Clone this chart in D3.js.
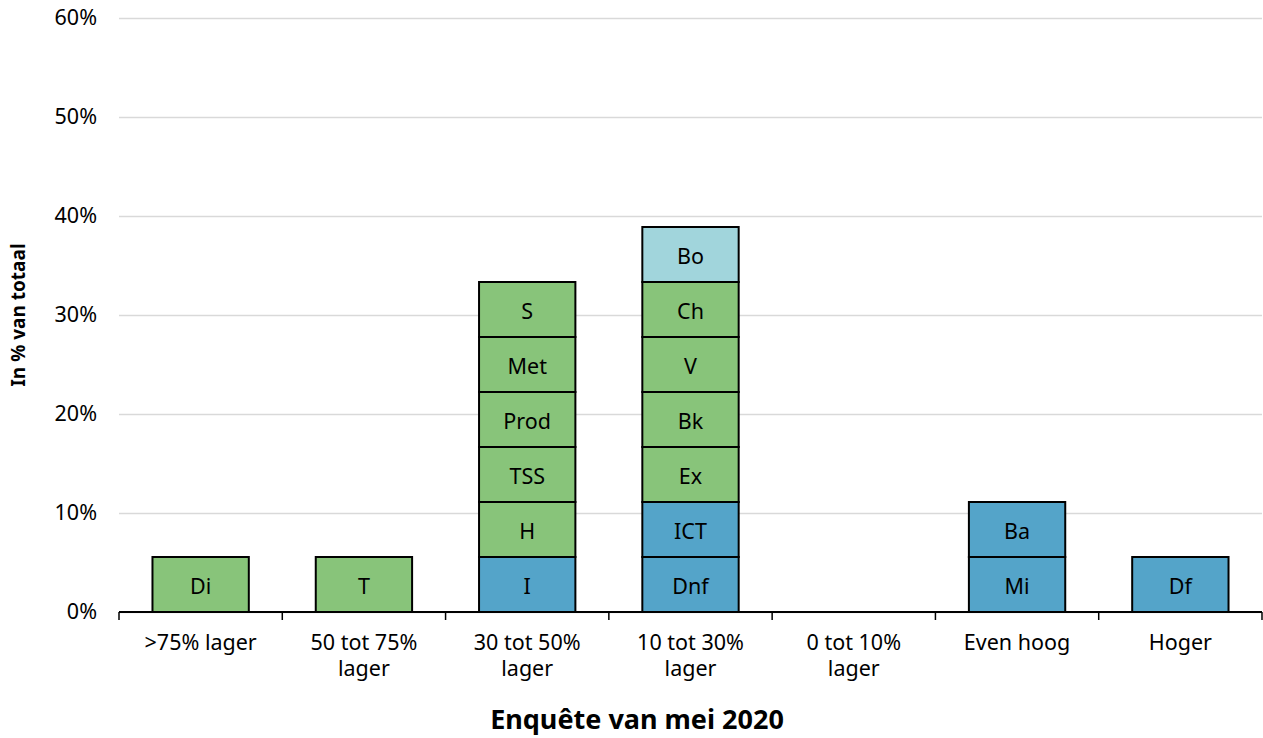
<!DOCTYPE html>
<html>
<head>
<meta charset="utf-8">
<script src="https://cdn.jsdelivr.net/npm/d3@7"></script>
<style>
  body { margin: 0; background: #fff; }
  svg, svg text { font-family: "Noto Sans", sans-serif; }
</style>
</head>
<body>
<svg></svg>
<script>
// Data: each response counts as 1/18 of the total
const categories = [">75% lager", "50 tot 75% lager", "30 tot 50% lager", "10 tot 30% lager", "0 tot 10% lager", "Even hoog", "Hoger"];
const segLabels = [
  ["Di"],
  ["T"],
  ["I", "H", "TSS", "Prod", "Met", "S"],
  ["Dnf", "ICT", "Ex", "Bk", "V", "Ch", "Bo"],
  [],
  ["Mi", "Ba"],
  ["Df"]
];
const segGroups = [
  ["g"],
  ["g"],
  ["b", "g", "g", "g", "g", "g"],
  ["b", "b", "g", "g", "g", "g", "l"],
  [],
  ["b", "b"],
  ["b"]
];
const segValue = 100 / 18;
const yTicks = [0, 10, 20, 30, 40, 50, 60];

const colors = { g: "#88c47a", b: "#54a4c9", l: "#a1d5dc" };

const width = 1263;
const height = 738;
const margin = { top: 18, right: 1, bottom: 126, left: 119 };
const fs = 21.5;

const svg = d3.select("svg")
              .attr("width", width)
              .attr("height", height);

const x = d3.scaleBand()
            .domain(categories)
            .range([margin.left, width - margin.right])
            .padding(0);

const y = d3.scaleLinear()
            .domain([0, 60])
            .range([height - margin.bottom, margin.top]);

// Gridlines + y labels
const yAxis = d3.axisLeft(y)
                .tickValues(yTicks)
                .tickFormat(d => d + "%")
                .tickSize(-(width - margin.left - margin.right))
                .tickPadding(22);

const gy = svg.append("g")
              .attr("transform", `translate(${margin.left},0)`)
              .call(yAxis)
              .attr("font-family", null)
              .attr("font-size", fs);
gy.select(".domain").remove();
gy.selectAll(".tick line").attr("stroke", "#d9d9d9").attr("stroke-width", 1.5);
gy.selectAll(".tick text").attr("fill", "#000");

// Build stacked segments
const segments = [];
categories.forEach((c, i) => {
  let y0 = 0;
  segLabels[i].forEach((lab, j) => {
    segments.push({ cat: c, label: lab, group: segGroups[i][j], y0: y0, y1: y0 + segValue });
    y0 += segValue;
  });
});

const barW = x.bandwidth() * 0.59;

const seg = svg.selectAll(".seg")
               .data(segments)
               .enter()
               .append("g")
               .attr("class", "seg");

seg.append("rect")
   .attr("x", d => x(d.cat) + (x.bandwidth() - barW) / 2)
   .attr("y", d => y(d.y1))
   .attr("width", barW)
   .attr("height", d => y(d.y0) - y(d.y1))
   .attr("fill", d => colors[d.group])
   .attr("stroke", "#000")
   .attr("stroke-width", 2);

seg.append("text")
   .attr("x", d => x(d.cat) + x.bandwidth() / 2)
   .attr("y", d => (y(d.y0) + y(d.y1)) / 2)
   .attr("dy", "0.45em")
   .attr("text-anchor", "middle")
   .attr("font-size", fs)
   .text(d => d.label);

// X axis with boundary ticks
const base = y(0);
svg.append("line")
   .attr("x1", margin.left).attr("x2", width - margin.right)
   .attr("y1", base).attr("y2", base)
   .attr("stroke", "#000").attr("stroke-width", 2);

const bounds = categories.map(c => x(c)).concat([x.range()[1]]);
svg.selectAll(".xtick")
   .data(bounds)
   .enter()
   .append("line")
   .attr("x1", d => d).attr("x2", d => d)
   .attr("y1", base).attr("y2", base + 8)
   .attr("stroke", "#000").attr("stroke-width", 1.5);

function wrap(text, maxW) {
  const words = text.split(" ");
  const lines = [];
  let cur = "";
  const tmp = svg.append("text").attr("font-size", fs);
  words.forEach(w => {
    const test = cur ? cur + " " + w : w;
    tmp.text(test);
    if (tmp.node().getComputedTextLength() > maxW && cur) {
      lines.push(cur);
      cur = w;
    } else {
      cur = test;
    }
  });
  lines.push(cur);
  tmp.remove();
  return lines;
}

categories.forEach(c => {
  const t = svg.append("text")
               .attr("x", x(c) + x.bandwidth() / 2)
               .attr("y", base + 38)
               .attr("text-anchor", "middle")
               .attr("font-size", fs);
  wrap(c, 140).forEach((line, k) => {
    t.append("tspan")
     .attr("x", x(c) + x.bandwidth() / 2)
     .attr("dy", k === 0 ? 0 : 26)
     .text(line);
  });
});

// Axis titles
svg.append("text")
   .attr("x", 637)
   .attr("y", 729)
   .attr("text-anchor", "middle")
   .attr("font-size", 27)
   .attr("font-weight", "bold")
   .text("Enquête van mei 2020");

svg.append("text")
   .attr("transform", `translate(25, ${(margin.top + base) / 2}) rotate(-90)`)
   .attr("text-anchor", "middle")
   .attr("font-size", 19)
   .attr("font-weight", "bold")
   .text("In % van totaal");
</script>
</body>
</html>
